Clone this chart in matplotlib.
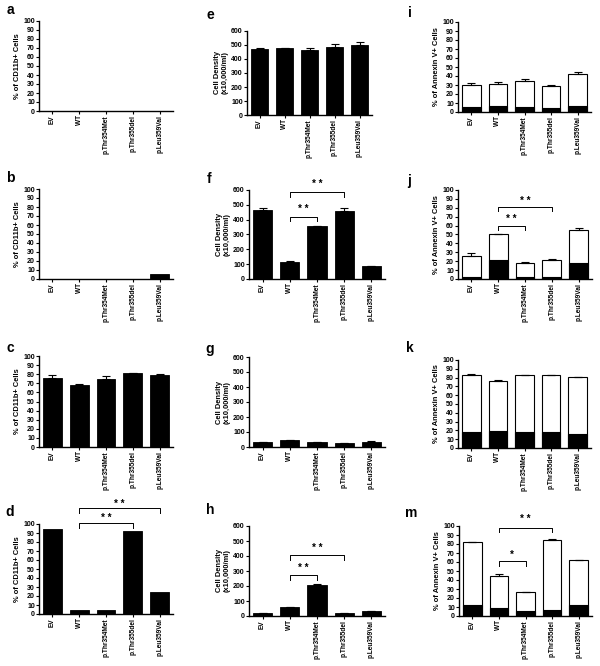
import matplotlib
matplotlib.use('Agg')
import matplotlib.pyplot as plt
import numpy as np

plt.rcParams['font.family'] = ['Liberation Sans', 'DejaVu Sans']
plt.rcParams['font.weight'] = 'bold'
plt.rcParams['axes.labelweight'] = 'bold'

groups = ['EV', 'WT', 'p.Thr354Met', 'p.Thr355del', 'p.Leu359Val']

# CD11b+ panels (a-d)
cd11b_a = [0, 0, 0, 0, 0]
cd11b_b = [0, 0.5, 0, 0, 6]
cd11b_c = [76, 68.5, 74.5, 81, 79.5]
cd11b_c_err = [3, 0.5, 3, 0.5, 1]
cd11b_d = [94, 5, 5, 92.5, 24]

# cell density panels (e-h), x10,000/ml
density_e = [474, 478, 467, 484, 500]
density_e_err = [8, 4, 14, 22, 18]
density_f = [468, 115, 356, 460, 85]
density_f_err = [10, 3, 3, 20, 2]
density_g = [33, 44, 31, 25, 35]
density_g_err = [2, 2, 1, 1, 2]
density_h = [17, 60, 208, 20, 35]
density_h_err = [1, 2, 4, 1, 1]

# annexin V+ panels (i-m): total and black (lower) part
annexin_i_total = [30, 31, 35, 29, 42]
annexin_i_err = [2, 2, 2, 1, 2.5]
annexin_i_black = [6, 6.5, 6, 5, 7]
annexin_j_total = [26, 50, 18, 21.5, 55]
annexin_j_err = [3.5, 1, 1, 1, 2]
annexin_j_black = [2, 21, 2.5, 2, 18]
annexin_k_total = [82.5, 76.5, 83, 83, 80.5]
annexin_k_err = [1.5, 1, 0.5, 0, 0.5]
annexin_k_black = [18, 19, 18.5, 18, 16]
annexin_m_total = [82, 44.5, 27, 84.5, 62]
annexin_m_err = [0.5, 2, 0, 1.5, 0.5]
annexin_m_black = [12, 8.5, 5.5, 6.5, 12.5]

# significance brackets: (from, to, line y, tick bottom y, text y, label)
brackets_d = [(1, 3, 101, 96, 107, '* *'), (1, 4, 118, 112, 122.5, '* *')]
brackets_f = [(1, 2, 420, 391, 470, '* *'), (1, 3, 584, 555, 640, '* *')]
brackets_h = [(1, 2, 271, 242, 320, '* *'), (1, 3, 404, 376, 453, '* *')]
brackets_j = [(1, 2, 60, 55, 67, '* *'), (1, 3, 80.5, 76, 88, '* *')]
brackets_m = [(1, 2, 61, 56, 68, '*'), (1, 3, 98, 93, 108, '* *')]

W, H = 600, 666
fig = plt.figure(figsize=(6, 6.66), dpi=100)


def make_ax(box):
    l, t, r, b = box
    ax = fig.add_axes([l / W, 1 - b / H, (r - l) / W, (b - t) / H])
    ax.spines['top'].set_visible(False)
    ax.spines['right'].set_visible(False)
    ax.spines['left'].set_linewidth(1.0)
    ax.spines['bottom'].set_linewidth(1.0)
    ax.tick_params(direction='out', length=2, width=0.8, labelsize=5, pad=1)
    ax.tick_params(axis='x', labelsize=4.7, labelrotation=90)
    ax.set_xlim(-0.5, 4.5)
    ax.set_xticks(range(len(groups)))
    ax.set_xticklabels(groups, fontweight='bold')
    for lab in ax.get_yticklabels():
        lab.set_fontweight('bold')
    return ax


def percent_axis(ax, label):
    ax.set_ylim(0, 100)
    ax.set_yticks(np.arange(0, 101, 10))
    ax.set_ylabel(label, fontsize=5.4, fontweight='bold', labelpad=1.5)


def density_axis(ax):
    ax.set_ylim(0, 600)
    ax.set_yticks(np.arange(0, 601, 100))
    ax.set_ylabel('Cell Density\n(x10,000/ml)', fontsize=5.4, fontweight='bold', labelpad=1.5)


def simple_bars(ax, vals, err=None):
    x = np.arange(len(vals))
    ax.bar(x, vals, width=0.7, color='black', edgecolor='black', linewidth=0.6, zorder=2)
    if err is not None:
        ax.errorbar(x, vals, yerr=[np.zeros(len(err)), err], fmt='none', ecolor='black',
                    elinewidth=0.8, capsize=3, capthick=0.8, zorder=3)


def stacked_bars(ax, total, black, err):
    x = np.arange(len(total))
    ax.bar(x, total, width=0.7, color='white', edgecolor='black', linewidth=0.8, zorder=2)
    ax.bar(x, black, width=0.7, color='black', edgecolor='black', linewidth=0.8, zorder=3)
    ax.errorbar(x, total, yerr=[np.zeros(len(err)), err], fmt='none', ecolor='black',
                elinewidth=0.8, capsize=3, capthick=0.8, zorder=4)


def add_brackets(ax, brackets):
    for i, j, y, yb, yt, lab in brackets:
        ax.plot([i, i, j, j], [yb, y, y, yb], color='black', lw=0.7, clip_on=False)
        ax.text((i + j) / 2, yt, lab, ha='center', va='center', fontsize=7,
                fontweight='bold', clip_on=False)


# column 1: CD11b
ax = make_ax((39, 21, 173, 111))
simple_bars(ax, cd11b_a)
percent_axis(ax, '% of CD11b+ Cells')

ax = make_ax((39, 189, 173, 279))
simple_bars(ax, cd11b_b)
percent_axis(ax, '% of CD11b+ Cells')

ax = make_ax((39, 356, 173, 447))
simple_bars(ax, cd11b_c, cd11b_c_err)
percent_axis(ax, '% of CD11b+ Cells')

ax = make_ax((39, 524, 173, 614))
simple_bars(ax, cd11b_d)
percent_axis(ax, '% of CD11b+ Cells')
add_brackets(ax, brackets_d)

# column 2: cell density
ax = make_ax((247, 31, 372, 115))
simple_bars(ax, density_e, density_e_err)
density_axis(ax)

ax = make_ax((249, 190, 385, 279))
simple_bars(ax, density_f, density_f_err)
density_axis(ax)
add_brackets(ax, brackets_f)

ax = make_ax((249, 357, 385, 447))
simple_bars(ax, density_g, density_g_err)
density_axis(ax)

ax = make_ax((249, 526, 385, 616))
simple_bars(ax, density_h, density_h_err)
density_axis(ax)
add_brackets(ax, brackets_h)

# column 3: annexin V
ax = make_ax((458, 22, 591, 112))
stacked_bars(ax, annexin_i_total, annexin_i_black, annexin_i_err)
percent_axis(ax, '% of Annexin V+ Cells')

ax = make_ax((458, 190, 592, 279))
stacked_bars(ax, annexin_j_total, annexin_j_black, annexin_j_err)
percent_axis(ax, '% of Annexin V+ Cells')
add_brackets(ax, brackets_j)

ax = make_ax((458, 360, 591, 448))
stacked_bars(ax, annexin_k_total, annexin_k_black, annexin_k_err)
percent_axis(ax, '% of Annexin V+ Cells')

ax = make_ax((459, 526, 592, 616))
stacked_bars(ax, annexin_m_total, annexin_m_black, annexin_m_err)
percent_axis(ax, '% of Annexin V+ Cells')
add_brackets(ax, brackets_m)

# panel letters
letters = [('a', 10, 10), ('b', 10, 178), ('c', 10, 348), ('d', 10, 512),
           ('e', 210, 15), ('f', 209, 179), ('g', 210, 349), ('h', 210, 510),
           ('i', 410, 13), ('j', 409, 181), ('k', 410, 348), ('m', 411, 513)]
for s, x, y in letters:
    fig.text(x / W, 1 - y / H, s, fontsize=10, fontweight='bold', ha='center', va='center')

fig.savefig('out.png', dpi=100)
